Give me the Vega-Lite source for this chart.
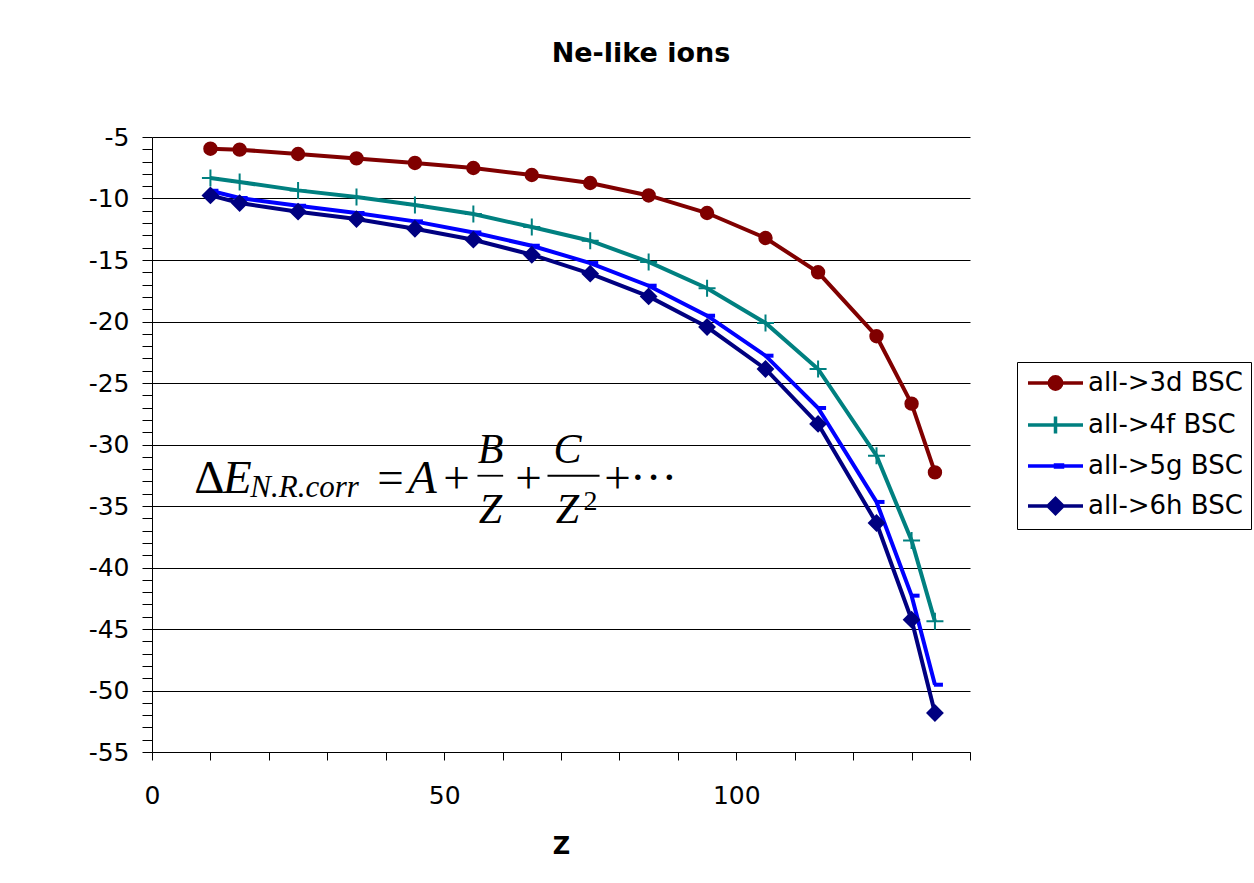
{
  "$schema": "https://vega.github.io/schema/vega-lite/v6.json",
  "autosize": "none",
  "width": 818,
  "height": 615,
  "padding": {"left": 152, "top": 137, "right": 284, "bottom": 131},
  "background": "white",
  "title": {"text": "Ne-like ions", "font": "DejaVu Sans", "fontSize": 27, "fontWeight": "bold", "color": "black", "anchor": "middle", "dx": 80, "offset": 36, "baseline": "alphabetic"},
  "config": {"view": {"stroke": null}},
  "datasets": {
    "series": [
      {"Z": 10, "dE": -5.95, "s": "all->3d BSC"},
      {"Z": 15, "dE": -6.03, "s": "all->3d BSC"},
      {"Z": 25, "dE": -6.38, "s": "all->3d BSC"},
      {"Z": 35, "dE": -6.74, "s": "all->3d BSC"},
      {"Z": 45, "dE": -7.11, "s": "all->3d BSC"},
      {"Z": 55, "dE": -7.52, "s": "all->3d BSC"},
      {"Z": 65, "dE": -8.09, "s": "all->3d BSC"},
      {"Z": 75, "dE": -8.74, "s": "all->3d BSC"},
      {"Z": 85, "dE": -9.75, "s": "all->3d BSC"},
      {"Z": 95, "dE": -11.18, "s": "all->3d BSC"},
      {"Z": 105, "dE": -13.21, "s": "all->3d BSC"},
      {"Z": 114, "dE": -16.0, "s": "all->3d BSC"},
      {"Z": 124, "dE": -21.2, "s": "all->3d BSC"},
      {"Z": 130, "dE": -26.68, "s": "all->3d BSC"},
      {"Z": 134, "dE": -32.27, "s": "all->3d BSC"},
      {"Z": 10, "dE": -8.33, "s": "all->4f BSC"},
      {"Z": 15, "dE": -8.66, "s": "all->4f BSC"},
      {"Z": 25, "dE": -9.34, "s": "all->4f BSC"},
      {"Z": 35, "dE": -9.88, "s": "all->4f BSC"},
      {"Z": 45, "dE": -10.53, "s": "all->4f BSC"},
      {"Z": 55, "dE": -11.26, "s": "all->4f BSC"},
      {"Z": 65, "dE": -12.32, "s": "all->4f BSC"},
      {"Z": 75, "dE": -13.43, "s": "all->4f BSC"},
      {"Z": 85, "dE": -15.16, "s": "all->4f BSC"},
      {"Z": 95, "dE": -17.3, "s": "all->4f BSC"},
      {"Z": 105, "dE": -20.12, "s": "all->4f BSC"},
      {"Z": 114, "dE": -23.86, "s": "all->4f BSC"},
      {"Z": 124, "dE": -30.91, "s": "all->4f BSC"},
      {"Z": 130, "dE": -37.8, "s": "all->4f BSC"},
      {"Z": 134, "dE": -44.38, "s": "all->4f BSC"},
      {"Z": 10, "dE": -9.37, "s": "all->5g BSC"},
      {"Z": 15, "dE": -9.96, "s": "all->5g BSC"},
      {"Z": 25, "dE": -10.59, "s": "all->5g BSC"},
      {"Z": 35, "dE": -11.18, "s": "all->5g BSC"},
      {"Z": 45, "dE": -11.86, "s": "all->5g BSC"},
      {"Z": 55, "dE": -12.76, "s": "all->5g BSC"},
      {"Z": 65, "dE": -13.84, "s": "all->5g BSC"},
      {"Z": 75, "dE": -15.25, "s": "all->5g BSC"},
      {"Z": 85, "dE": -17.09, "s": "all->5g BSC"},
      {"Z": 95, "dE": -19.53, "s": "all->5g BSC"},
      {"Z": 105, "dE": -22.78, "s": "all->5g BSC"},
      {"Z": 114, "dE": -27.03, "s": "all->5g BSC"},
      {"Z": 124, "dE": -34.67, "s": "all->5g BSC"},
      {"Z": 130, "dE": -42.29, "s": "all->5g BSC"},
      {"Z": 134, "dE": -49.53, "s": "all->5g BSC"},
      {"Z": 10, "dE": -9.75, "s": "all->6h BSC"},
      {"Z": 15, "dE": -10.37, "s": "all->6h BSC"},
      {"Z": 25, "dE": -11.07, "s": "all->6h BSC"},
      {"Z": 35, "dE": -11.67, "s": "all->6h BSC"},
      {"Z": 45, "dE": -12.46, "s": "all->6h BSC"},
      {"Z": 55, "dE": -13.35, "s": "all->6h BSC"},
      {"Z": 65, "dE": -14.57, "s": "all->6h BSC"},
      {"Z": 75, "dE": -16.11, "s": "all->6h BSC"},
      {"Z": 85, "dE": -17.96, "s": "all->6h BSC"},
      {"Z": 95, "dE": -20.45, "s": "all->6h BSC"},
      {"Z": 105, "dE": -23.86, "s": "all->6h BSC"},
      {"Z": 114, "dE": -28.33, "s": "all->6h BSC"},
      {"Z": 124, "dE": -36.38, "s": "all->6h BSC"},
      {"Z": 130, "dE": -44.24, "s": "all->6h BSC"},
      {"Z": 134, "dE": -51.83, "s": "all->6h BSC"}
    ],
    "eqBigNormal": [
      {"Z": 9.81, "dE": -33.92, "t": "Δ"},
      {"Z": 40.8, "dE": -33.92, "t": "="},
      {"Z": 52.1, "dE": -33.92, "t": "+"},
      {"Z": 64.43, "dE": -33.92, "t": "+"},
      {"Z": 79.68, "dE": -33.92, "t": "+"},
      {"Z": 85.85, "dE": -33.92, "t": "···"}
    ],
    "eqBigItalic": [
      {"Z": 14.61, "dE": -33.92, "t": "E"},
      {"Z": 46.28, "dE": -33.92, "t": "A"}
    ],
    "eqMidItalic": [
      {"Z": 57.93, "dE": -31.48, "t": "B"},
      {"Z": 57.93, "dE": -36.36, "t": "Z"},
      {"Z": 71.11, "dE": -31.48, "t": "C"},
      {"Z": 71.11, "dE": -36.36, "t": "Z"}
    ],
    "eqSub": [
      {"Z": 16.83, "dE": -34.24, "t": "N.R.corr"}
    ],
    "eqSup": [
      {"Z": 75.05, "dE": -35.3, "t": "2"}
    ],
    "eqBars": [
      {"Z": 55.7, "Z2": 60.1, "dE": -32.54},
      {"Z": 67.69, "Z2": 76.6, "dE": -32.54}
    ]
  },
  "encoding": {
    "x": {
      "field": "Z", "type": "quantitative",
      "scale": {"domain": [0, 140], "nice": false, "zero": false},
      "axis": {
        "values": [0, 10, 20, 30, 40, 50, 60, 70, 80, 90, 100, 110, 120, 130, 140],
        "labelExpr": "datum.value % 50 === 0 ? '' + datum.value : ''",
        "grid": false,
        "tickSize": 8,
        "tickColor": "black",
        "domainColor": "black",
        "labelFont": "DejaVu Sans",
        "labelFontSize": 25,
        "labelColor": "black",
        "labelPadding": 23,
        "labelFlush": false,
        "labelOverlap": false,
        "labelBound": false,
        "title": "Z",
        "titleFont": "DejaVu Sans",
        "titleFontSize": 24,
        "titleFontWeight": "bold",
        "titleColor": "black",
        "titlePadding": 26,
        "encode": {"ticks": {"update": {"y2": {"signal": "datum.value % 50 === 0 ? 8 : -8"}}}}
      }
    },
    "y": {
      "field": "dE", "type": "quantitative",
      "scale": {"domain": [-55, -5], "nice": false, "zero": false},
      "axis": {
        "values": [-55, -54, -53, -52, -51, -50, -49, -48, -47, -46, -45, -44, -43, -42, -41, -40, -39, -38, -37, -36, -35, -34, -33, -32, -31, -30, -29, -28, -27, -26, -25, -24, -23, -22, -21, -20, -19, -18, -17, -16, -15, -14, -13, -12, -11, -10, -9, -8, -7, -6, -5],
        "labelExpr": "datum.value % 5 === 0 ? '' + datum.value : ''",
        "grid": true,
        "gridColor": "black",
        "gridWidth": 1,
        "gridOpacity": {"condition": {"test": "datum.value % 5 === 0", "value": 1}, "value": 0},
        "tickSize": 10,
        "tickColor": "black",
        "domainColor": "black",
        "labelFont": "DejaVu Sans",
        "labelFontSize": 25,
        "labelColor": "black",
        "labelPadding": 13,
        "labelFlush": false,
        "labelOverlap": false,
        "labelBound": false,
        "title": null,
        "encode": {
          "ticks": {"update": {"x2": {"signal": "datum.value % 5 === 0 ? -10 : 8"}}}
        }
      }
    }
  },
  "layer": [
    {
      "data": {"name": "series"},
      "mark": {"type": "point", "filled": true, "opacity": 0, "size": 400, "strokeWidth": 3.5},
      "encoding": {
        "color": {
          "field": "s", "type": "nominal",
          "scale": {"domain": ["all->3d BSC", "all->4f BSC", "all->5g BSC", "all->6h BSC"], "range": ["#800000", "#008080", "#0000FF", "#000080"]},
          "legend": {"title": null, "orient": "none", "legendX": 865, "legendY": 225, "strokeColor": "black", "fillColor": "white", "padding": 8, "symbolSize": 400, "symbolStrokeWidth": 3.5, "symbolOpacity": 1, "labelOffset": 37, "labelFont": "DejaVu Sans", "labelFontSize": 26, "labelColor": "black", "labelLimit": 400, "rowPadding": 12}
        },
        "stroke": {
          "field": "s", "type": "nominal",
          "scale": {"domain": ["all->3d BSC", "all->4f BSC", "all->5g BSC", "all->6h BSC"], "range": ["#800000", "#008080", "#0000FF", "#000080"]},
          "legend": {"title": null, "orient": "none", "legendX": 865, "legendY": 225, "strokeColor": "black", "fillColor": "white", "padding": 8, "symbolSize": 400, "symbolStrokeWidth": 3.5, "symbolOpacity": 1, "labelOffset": 37, "labelFont": "DejaVu Sans", "labelFontSize": 26, "labelColor": "black", "labelLimit": 400, "rowPadding": 12}
        },
        "shape": {
          "field": "s", "type": "nominal",
          "scale": {"domain": ["all->3d BSC", "all->4f BSC", "all->5g BSC", "all->6h BSC"], "range": ["M-1,0H4.5M1.13,0A0.62,0.62 0 1,0 2.37,0A0.62,0.62 0 1,0 1.13,0Z", "M-1,0H4.5M1.75,-0.85V0.85", "M-1,0H4.5M1.75,-0.1H2.45V0.1H1.75Z", "M-1,0H4.5M1,0L1.75,-0.75L2.5,0L1.75,0.75Z"]},
          "legend": {"title": null, "orient": "none", "legendX": 865, "legendY": 225, "strokeColor": "black", "fillColor": "white", "padding": 8, "symbolSize": 400, "symbolStrokeWidth": 3.5, "symbolOpacity": 1, "labelOffset": 37, "labelFont": "DejaVu Sans", "labelFontSize": 26, "labelColor": "black", "labelLimit": 400, "rowPadding": 12}
        }
      }
    },
    {
      "data": {"name": "series"},
      "mark": {"type": "line", "strokeWidth": 4},
      "encoding": {
        "color": {"field": "s", "type": "nominal"},
        "order": {"field": "Z", "type": "quantitative"}
      }
    },
    {
      "data": {"name": "series"},
      "transform": [{"filter": "datum.s === 'all->3d BSC'"}],
      "mark": {"type": "point", "shape": "M-0.62,0A0.62,0.62 0 1,0 0.62,0A0.62,0.62 0 1,0 -0.62,0Z", "filled": true, "color": "#800000", "stroke": "#800000", "size": 400, "strokeWidth": 2, "opacity": 1}
    },
    {
      "data": {"name": "series"},
      "transform": [{"filter": "datum.s === 'all->4f BSC'"}],
      "mark": {"type": "point", "shape": "M-0.85,0H0.85M0,-0.85V0.85", "filled": true, "color": "#008080", "stroke": "#008080", "size": 400, "strokeWidth": 2, "opacity": 1}
    },
    {
      "data": {"name": "series"},
      "transform": [{"filter": "datum.s === 'all->5g BSC'"}],
      "mark": {"type": "point", "shape": "M0,-0.1H0.7V0.1H0Z", "filled": true, "color": "#0000FF", "stroke": "#0000FF", "size": 400, "strokeWidth": 2, "opacity": 1}
    },
    {
      "data": {"name": "series"},
      "transform": [{"filter": "datum.s === 'all->6h BSC'"}],
      "mark": {"type": "point", "shape": "M-0.75,0L0,-0.75L0.75,0L0,0.75Z", "filled": true, "color": "#000080", "stroke": "#000080", "size": 400, "strokeWidth": 2, "opacity": 1}
    },
    {
      "data": {"name": "eqBigNormal"},
      "mark": {"type": "text", "font": "Liberation Serif", "fontSize": 47, "align": "center", "baseline": "alphabetic", "color": "black"},
      "encoding": {"text": {"field": "t"}}
    },
    {
      "data": {"name": "eqBigItalic"},
      "mark": {"type": "text", "font": "Liberation Serif", "fontSize": 47, "fontStyle": "italic", "align": "center", "baseline": "alphabetic", "color": "black"},
      "encoding": {"text": {"field": "t"}}
    },
    {
      "data": {"name": "eqMidItalic"},
      "mark": {"type": "text", "font": "Liberation Serif", "fontSize": 42, "fontStyle": "italic", "align": "center", "baseline": "alphabetic", "color": "black"},
      "encoding": {"text": {"field": "t"}}
    },
    {
      "data": {"name": "eqSub"},
      "mark": {"type": "text", "font": "Liberation Serif", "fontSize": 31, "fontStyle": "italic", "align": "left", "baseline": "alphabetic", "color": "black"},
      "encoding": {"text": {"field": "t"}}
    },
    {
      "data": {"name": "eqSup"},
      "mark": {"type": "text", "font": "Liberation Serif", "fontSize": 28, "align": "center", "baseline": "alphabetic", "color": "black"},
      "encoding": {"text": {"field": "t"}}
    },
    {
      "data": {"name": "eqBars"},
      "mark": {"type": "rule", "color": "black", "strokeWidth": 1.8},
      "encoding": {"x2": {"field": "Z2"}}
    }
  ]
}
